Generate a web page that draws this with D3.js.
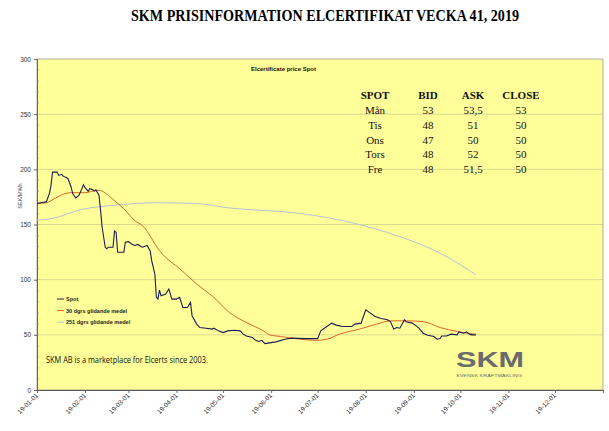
<!DOCTYPE html>
<html><head><meta charset="utf-8">
<script src="https://cdn.jsdelivr.net/npm/d3@7/dist/d3.min.js"></script>
<style>body{margin:0;background:#fff}svg{display:block}</style>
</head><body><svg id="c" width="609" height="431"></svg>
<script>
const spotDates=["2019-01-01","2019-01-04","2019-01-07","2019-01-09","2019-01-10","2019-01-11","2019-01-14","2019-01-15","2019-01-17","2019-01-18","2019-01-20","2019-01-21","2019-01-23","2019-01-24","2019-01-26","2019-01-28","2019-01-30","2019-01-31","2019-02-01","2019-02-03","2019-02-04","2019-02-06","2019-02-07","2019-02-08","2019-02-10","2019-02-11","2019-02-12","2019-02-14","2019-02-15","2019-02-16","2019-02-19","2019-02-20","2019-02-21","2019-02-22","2019-02-24","2019-02-26","2019-02-27","2019-03-01","2019-03-03","2019-03-05","2019-03-07","2019-03-09","2019-03-10","2019-03-13","2019-03-15","2019-03-16","2019-03-18","2019-03-19","2019-03-20","2019-03-21","2019-03-22","2019-03-25","2019-03-27","2019-03-29","2019-04-01","2019-04-03","2019-04-05","2019-04-08","2019-04-10","2019-04-11","2019-04-14","2019-04-16","2019-04-20","2019-04-24","2019-04-25","2019-04-28","2019-05-01","2019-05-04","2019-05-08","2019-05-12","2019-05-14","2019-05-16","2019-05-20","2019-05-22","2019-05-24","2019-05-26","2019-05-28","2019-05-31","2019-06-04","2019-06-10","2019-06-14","2019-06-23","2019-07-01","2019-07-03","2019-07-06","2019-07-10","2019-07-13","2019-07-17","2019-07-23","2019-07-25","2019-07-29","2019-08-01","2019-08-04","2019-08-07","2019-08-11","2019-08-15","2019-08-17","2019-08-19","2019-08-21","2019-08-23","2019-08-26","2019-08-27","2019-08-31","2019-09-04","2019-09-07","2019-09-10","2019-09-14","2019-09-16","2019-09-18","2019-09-19","2019-09-22","2019-09-25","2019-09-29","2019-09-30","2019-10-03","2019-10-05","2019-10-07","2019-10-08","2019-10-10","2019-10-11"];
const spotValues=[169,170,170.5,178,185,197.5,197.5,194.5,195.5,193.6,192.5,191.5,184,178,174,176.4,182.5,186,183.4,180,182.5,181.5,180.3,181.5,176.4,162.7,147.5,129.4,128,129.4,129.4,144,143,124.8,124.8,124.8,134,134.5,132.4,131,132,130,129.4,131,126,117,105,84,82.4,90.6,85.5,87,91.5,82.4,82.4,84,74.8,74.8,79.4,67.3,59.7,56.6,56,55.2,56,53.6,52,53.6,54.2,53.6,50.6,49,47.5,45,44,45,42,42.7,43.6,46,47,46.6,46.6,53.6,56.6,60.6,58.8,57.6,57.6,59.7,60.6,72.7,69.7,66.6,64.8,63.6,61.8,55.2,56.6,56,63.6,61.8,60.6,56.6,51.5,49.7,48.5,46,46.6,49,49,50.6,50,52.7,51.5,52.7,50.6,50,50,50];
const ma30Dates=["2019-01-01","2019-01-07","2019-01-13","2019-01-19","2019-01-23","2019-02-01","2019-02-06","2019-02-10","2019-02-12","2019-02-16","2019-02-21","2019-02-26","2019-03-02","2019-03-05","2019-03-10","2019-03-21","2019-03-23","2019-04-03","2019-04-14","2019-04-25","2019-05-05","2019-05-16","2019-05-27","2019-05-31","2019-06-07","2019-06-20","2019-06-30","2019-07-07","2019-07-15","2019-07-28","2019-08-08","2019-08-17","2019-08-27","2019-09-07","2019-09-18","2019-09-29","2019-10-05","2019-10-11"];
const ma30Values=[169,169.7,174,178,178.8,178.8,180.3,181,180.3,176.4,170.3,164.3,158,153.6,149,126.4,123,110,96,84,70.3,61.2,53.6,50,48.5,46,45,46,50.6,55.2,59.7,62.7,62.7,62,56.6,53,51.5,50.6];
const ma251Dates=["2019-01-01","2019-01-09","2019-01-31","2019-02-19","2019-03-19","2019-04-14","2019-05-05","2019-06-20","2019-07-22","2019-08-23","2019-09-18","2019-10-11"];
const ma251Values=[154,155,164,167.3,169.7,169,165,160,152,139,124,104.5];
const yTicks=[0,50,100,150,200,250,300];
const legendLabels=["Spot","30 dgrs glidande medel","251 dgrs glidande medel"];
const tableHeader=["SPOT","BID","ASK","CLOSE"];
const tableDays=["Mån","Tis","Ons","Tors","Fre"];
const tableBid=["53","48","47","48","48"];
const tableAsk=["53,5","51","50","52","51,5"];
const tableClose=["53","50","50","50","50"];

const parse=d3.timeParse("%Y-%m-%d");
const svg=d3.select("#c");
const L=37,R=603,T=59,B=390;
const x=d3.scaleTime().domain([parse("2019-01-01"),parse("2020-01-01")]).range([L,R]);
const y=d3.scaleLinear().domain([0,300]).range([B,T]);

svg.append("text").attr("x",325).attr("y",21).attr("text-anchor","middle")
  .attr("font-family","'Liberation Serif',serif").attr("font-weight","bold").attr("font-size",16)
  .attr("textLength",388).attr("lengthAdjust","spacingAndGlyphs")
  .text("SKM PRISINFORMATION ELCERTIFIKAT VECKA 41, 2019");

svg.append("rect").attr("x",L).attr("y",T).attr("width",R-L).attr("height",B-T).attr("fill","#ffff99");

// gridlines
svg.append("g").selectAll("line").data(yTicks.filter(v=>v>0&&v<300)).join("line")
  .attr("x1",L).attr("x2",R).attr("y1",d=>y(d)).attr("y2",d=>y(d))
  .attr("stroke","#cfcf90").attr("stroke-width",0.8);
svg.append("rect").attr("x",L).attr("y",T).attr("width",R-L).attr("height",B-T)
  .attr("fill","none").attr("stroke","#9a9a9a").attr("stroke-width",0.8);

// y axis
const ya=svg.append("g").attr("transform",`translate(${L},0)`)
  .call(d3.axisLeft(y).tickValues(yTicks).tickSize(3).tickFormat(d3.format("d")));
ya.select(".domain").attr("stroke","#666");
ya.selectAll(".tick line").attr("stroke","#666");
ya.selectAll("text").attr("font-family","Arial,'Liberation Sans',sans-serif").attr("font-size",6.5).attr("fill","#333").attr("x",-6);
svg.append("g").selectAll("line").data(d3.range(0,300,10).filter(v=>v%50!==0)).join("line")
  .attr("x1",L).attr("x2",L+2).attr("y1",d=>y(d)).attr("y2",d=>y(d)).attr("stroke","#888").attr("stroke-width",0.6);
svg.append("text").attr("transform","translate(22,196) rotate(-90)").attr("text-anchor","middle")
  .attr("font-family","Arial,'Liberation Sans',sans-serif").attr("font-size",5.5).attr("fill","#444").text("SEK/MWh");

// x axis
const xa=svg.append("g").attr("transform",`translate(0,${B})`)
  .call(d3.axisBottom(x).ticks(d3.timeMonth.every(1)).tickSize(3).tickFormat(d3.timeFormat("%y-%m-%d")));
xa.select(".domain").attr("stroke","#555");
xa.selectAll(".tick line").attr("stroke","#666");
xa.selectAll(".tick").filter(d=>d.getFullYear()>2019).select("text").remove();
xa.selectAll("text").attr("font-family","Arial,'Liberation Sans',sans-serif").attr("font-size",6.5).attr("fill","#333")
  .attr("text-anchor","end").attr("dy",0).attr("y",0).attr("transform","translate(1,6) rotate(-45)");

// lines
const mk=(ds,vs)=>ds.map((d,i)=>[parse(d),vs[i]]);
const smooth=d3.line().x(d=>x(d[0])).y(d=>y(d[1])).curve(d3.curveMonotoneX);
const straight=d3.line().x(d=>x(d[0])).y(d=>y(d[1]));
svg.append("path").datum(mk(ma251Dates,ma251Values)).attr("d",smooth).attr("fill","none").attr("stroke","#b4c4d4").attr("stroke-width",1);
svg.append("path").datum(mk(ma30Dates,ma30Values)).attr("d",smooth).attr("fill","none").attr("stroke","#dc6428").attr("stroke-width",1);
svg.append("path").datum(mk(spotDates,spotValues)).attr("d",straight).attr("fill","none").attr("stroke","#1c1c50").attr("stroke-width",1.1);

// inner title
svg.append("text").attr("x",251).attr("y",71).attr("font-family","Arial,'Liberation Sans',sans-serif")
  .attr("font-weight","bold").attr("font-size",6).attr("fill","#111").text("Elcertificate price Spot");

// table
const colX=[375,428,473,521];
const sf="'Liberation Serif',serif";
svg.append("g").selectAll("text").data(tableHeader).join("text")
  .attr("x",(d,i)=>colX[i]).attr("y",99).attr("text-anchor","middle").attr("font-family",sf)
  .attr("font-weight","bold").attr("font-size",11).attr("fill","#111").text(d=>d);
const rows=tableDays.map((d,i)=>[d,tableBid[i],tableAsk[i],tableClose[i]]);
rows.forEach((r,ri)=>{
  svg.append("g").selectAll("text").data(r).join("text")
    .attr("x",(d,i)=>colX[i]).attr("y",114+ri*14.8).attr("text-anchor","middle").attr("font-family",sf)
    .attr("font-size",11).attr("fill","#111").text(d=>d);
});

// legend
const lc=["#1c1c50","#dc6428","#b4c4d4"];
const lg=svg.append("g");
legendLabels.forEach((t,i)=>{
  const yy=299+i*11.6;
  lg.append("line").attr("x1",57).attr("x2",64).attr("y1",yy).attr("y2",yy).attr("stroke",lc[i]).attr("stroke-width",1);
  lg.append("text").attr("x",66).attr("y",yy+2).attr("font-family","Arial,'Liberation Sans',sans-serif")
    .attr("font-weight","bold").attr("font-size",5.5).attr("fill","#222").text(t);
});

svg.append("text").attr("x",46).attr("y",363).attr("font-family","'Open Sans',sans-serif").attr("font-size",8.5)
  .attr("fill","#111").attr("textLength",162).attr("lengthAdjust","spacingAndGlyphs")
  .text("SKM  AB is a marketplace for Elcerts since 2003.");

// logo
svg.append("text").attr("x",456).attr("y",367).attr("font-family","'Liberation Sans',Arial,sans-serif")
  .attr("font-weight","bold").attr("font-size",22).attr("fill","#6b6b6b")
  .attr("textLength",68).attr("lengthAdjust","spacingAndGlyphs").text("SKM");
svg.append("text").attr("x",456).attr("y",376.5).attr("font-family","'Liberation Sans',Arial,sans-serif")
  .attr("font-size",4.2).attr("fill","#6b6b6b")
  .attr("textLength",66).attr("lengthAdjust","spacingAndGlyphs").text("SVENSK KRAFTMÄKLING");
</script></body></html>
